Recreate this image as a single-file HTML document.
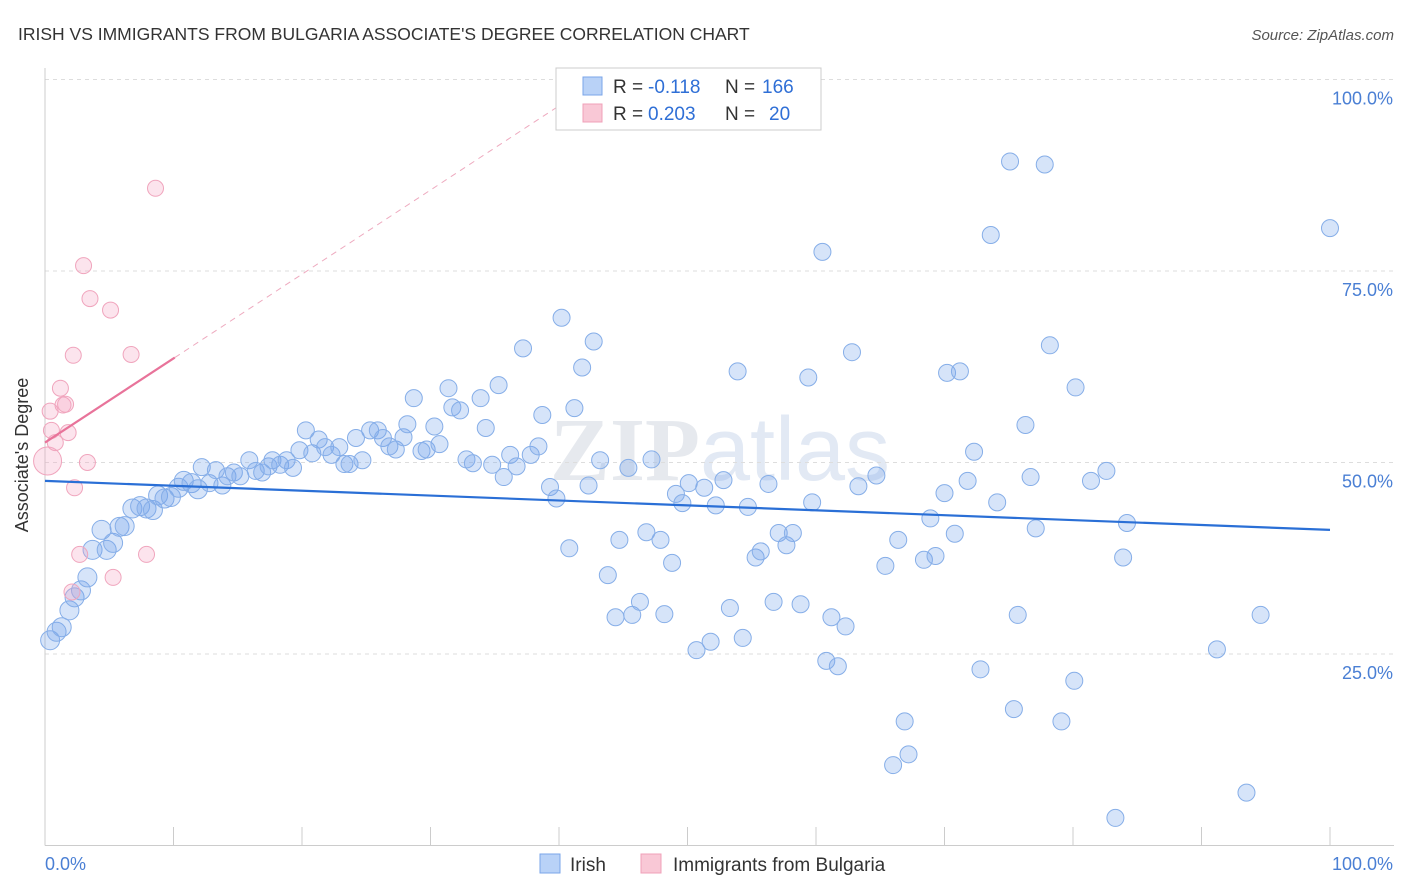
<!DOCTYPE html>
<html><head><meta charset="utf-8"><style>
body{margin:0;background:#fff;font-family:"Liberation Sans",sans-serif}
#c{position:absolute;left:0;top:0}
</style></head><body>
<svg id="c" width="1406" height="892">
<text x="18" y="40" font-size="17.5" fill="#333">IRISH VS IMMIGRANTS FROM BULGARIA ASSOCIATE'S DEGREE CORRELATION CHART</text>
<text x="1394" y="40" font-size="15" fill="#555" font-style="italic" text-anchor="end">Source: ZipAtlas.com</text>
<text x="720" y="480" font-size="90" fill="#e6e9ee" text-anchor="middle" font-family="Liberation Serif, serif" font-weight="bold">ZIP<tspan font-family="Liberation Sans, sans-serif" font-weight="normal" fill="#e2e9f4">atlas</tspan></text>
<g id="grid"></g><g id="axes"></g><g id="marks"></g>
<g>
<rect x="556" y="68" width="265" height="62" fill="#fff" stroke="#ccc"/>
<rect x="583" y="77" width="19" height="18" fill="#b9d2f7" stroke="#7aa5e8"/>
<rect x="583" y="104" width="19" height="18" fill="#f9c8d6" stroke="#f0a0b8"/>
<g font-size="19" fill="#333">
<text x="613" y="93">R =</text><text x="648" y="93" fill="#2f6fd6">-0.118</text><text x="725" y="93">N =</text><text x="762" y="93" fill="#2f6fd6">166</text></g>
<g font-size="19" fill="#333">
<text x="613" y="120">R =</text><text x="648" y="120" fill="#2f6fd6">0.203</text><text x="725" y="120">N =</text><text x="769" y="120" fill="#2f6fd6">20</text></g>
</g>
<g>
<rect x="540" y="854" width="20" height="19" fill="#b9d2f7" stroke="#7aa5e8"/>
<text x="570" y="871" font-size="19" fill="#333">Irish</text>
<rect x="641" y="854" width="20" height="19" fill="#f9c8d6" stroke="#f0a0b8"/>
<text x="673" y="871" font-size="19" fill="#333">Immigrants from Bulgaria</text>
</g>
<text x="28" y="455" font-size="18" fill="#333" transform="rotate(-90 28 455)" text-anchor="middle">Associate's Degree</text>
</svg>
<script>
const blueX=[0.4,0.9,1.3,1.9,2.3,2.8,3.3,3.7,4.4,4.8,5.3,5.8,6.2,6.8,7.4,7.9,8.4,8.8,9.3,9.8,10.4,10.8,11.4,11.9,12.2,12.8,13.3,13.8,14.2,14.7,15.2,15.9,16.4,16.9,17.4,17.7,18.3,18.8,19.3,19.8,20.3,20.8,21.3,21.8,22.3,22.9,23.3,23.7,24.2,24.7,25.3,25.9,26.3,26.8,27.3,27.9,28.2,28.7,29.3,29.7,30.3,30.7,31.4,31.7,32.3,32.8,33.3,33.9,34.3,34.8,35.3,35.7,36.2,36.7,37.2,37.8,38.4,38.7,39.3,39.8,40.2,40.8,41.2,41.8,42.3,42.7,43.2,43.8,44.4,44.7,45.4,45.7,46.3,46.8,47.2,47.9,48.2,48.8,49.1,49.6,50.1,50.7,51.3,51.8,52.2,52.8,53.3,53.9,54.3,54.7,55.3,55.7,56.3,56.7,57.1,57.7,58.2,58.8,59.4,59.7,60.5,60.8,61.2,61.7,62.3,62.8,63.3,64.7,65.4,66.0,66.4,66.9,67.2,68.4,68.9,69.3,70.0,70.2,70.8,71.2,71.8,72.3,72.8,73.6,74.1,75.1,75.4,75.7,76.3,76.7,77.1,77.8,78.2,79.1,80.1,80.2,81.4,82.6,83.3,83.9,84.2,91.2,93.5,94.6,100];
const blueY=[26.8,27.9,28.5,30.7,32.4,33.3,35.0,38.6,41.2,38.6,39.5,41.6,41.7,44.0,44.3,44.0,43.8,45.7,45.3,45.5,46.7,47.6,47.3,46.5,49.4,47.3,49.0,47.0,48.2,48.7,48.2,50.3,48.9,48.7,49.5,50.3,49.7,50.3,49.3,51.6,54.2,51.2,53.0,52.0,51.0,52.0,49.8,49.8,53.2,50.3,54.2,54.2,53.2,52.1,51.7,53.3,55.0,58.4,51.5,51.7,54.7,52.4,59.7,57.2,56.8,50.4,49.9,58.4,54.5,49.7,60.1,48.1,51.0,49.5,64.9,51.0,52.1,56.2,46.8,45.3,68.9,38.8,57.1,62.4,47.0,65.8,50.3,35.3,29.8,39.9,49.3,30.1,31.8,40.9,50.4,39.9,30.2,36.9,45.9,44.7,47.3,25.5,46.7,26.6,44.4,47.7,31.0,61.9,27.1,44.2,37.6,38.4,47.2,31.8,40.8,39.2,40.8,31.5,61.1,44.8,77.5,24.1,29.8,23.4,28.6,64.4,46.9,48.3,36.5,10.5,39.9,16.2,11.9,37.3,42.7,37.8,46.0,61.7,40.7,61.9,47.6,51.4,23.0,79.7,44.8,89.3,17.8,30.1,54.9,48.1,41.4,88.9,65.3,16.2,21.5,59.8,47.6,48.9,3.6,37.6,42.1,25.6,6.9,30.1,80.6];
const pinkX=[0.2,0.4,0.5,0.8,1.2,1.4,1.6,1.8,2.2,2.3,2.1,2.7,3.0,3.3,3.5,5.1,5.3,6.7,7.9,8.6];
const pinkY=[50.2,56.7,54.2,52.6,59.7,57.5,57.6,53.9,64.0,46.7,33.1,38.0,75.7,50.0,71.4,69.9,35.0,64.1,38.0,85.8];
const blueTrend=[47.6,41.2];
const pinkTrend=[52.6,63.7];
const yTicks=[25,50,75,100];
const yTickLabels=["25.0%","50.0%","75.0%","100.0%"];
const xTicks=[0,10,20,30,40,50,60,70,80,90,100];
const X=v=>45+v*12.85, Y=v=>845.5-v*7.66;
const NS="http://www.w3.org/2000/svg";
function mk(p,t,a){const e=document.createElementNS(NS,t);for(const k in a)e.setAttribute(k,a[k]);p.appendChild(e);return e;}
const grid=document.getElementById('grid'),axes=document.getElementById('axes'),marks=document.getElementById('marks');
yTicks.forEach((t,i)=>{
 const l=mk(grid,'line',{x1:45,x2:1394,y1:Y(t),y2:Y(t),stroke:'#ddd','stroke-dasharray':'4,4'});
 
 
 const tx=mk(axes,'text',{x:1393,y:Y(t)+25,'font-size':18,fill:'#4a7fd4','text-anchor':'end'});
 tx.textContent=yTickLabels[i];
 
 
});
let ax=mk(axes,'line',{x1:45,x2:1394,y1:845.5,y2:845.5,stroke:'#ccc'});


let ay=mk(axes,'line',{x1:45,x2:45,y1:68,y2:845.5,stroke:'#ccc'});


xTicks.forEach(t=>{const l=mk(axes,'line',{x1:X(t),x2:X(t),y1:827,y2:845.5,stroke:'#ccc'});
 
 });
let t0=mk(axes,'text',{x:45,y:870,'font-size':18,fill:'#4a7fd4'});t0.textContent='0.0%';


let t1=mk(axes,'text',{x:1393,y:870,'font-size':18,fill:'#4a7fd4','text-anchor':'end'});t1.textContent='100.0%';


blueX.forEach((x,i)=>{const c=mk(marks,'circle',{cx:X(x),cy:Y(blueY[i]),r:x<12?9.5:8.5,fill:'rgba(120,165,235,0.3)',stroke:'#86aee8','stroke-width':1});
 
 });
pinkX.forEach((x,i)=>{const c=mk(marks,'circle',{cx:X(x),cy:Y(pinkY[i]),r:i==0?14:8,fill:'rgba(245,165,195,0.3)',stroke:'#f0a5bd','stroke-width':1});
 
 });
let bl=mk(marks,'line',{x1:X(0),y1:Y(blueTrend[0]),x2:X(100),y2:Y(blueTrend[1]),stroke:'#2a6fd6','stroke-width':2.2});


const ps=(pinkTrend[1]-pinkTrend[0])/10.1;
let pl=mk(marks,'line',{x1:X(0),y1:Y(pinkTrend[0]),x2:X(10.1),y2:Y(pinkTrend[1]),stroke:'#e8739a','stroke-width':2.2});


let pd=mk(marks,'line',{x1:X(10.1),y1:Y(pinkTrend[1]),x2:X(40),y2:Y(pinkTrend[0]+ps*40),stroke:'#eeaabf','stroke-width':1,'stroke-dasharray':'6,5'});


</script>
</body></html>
